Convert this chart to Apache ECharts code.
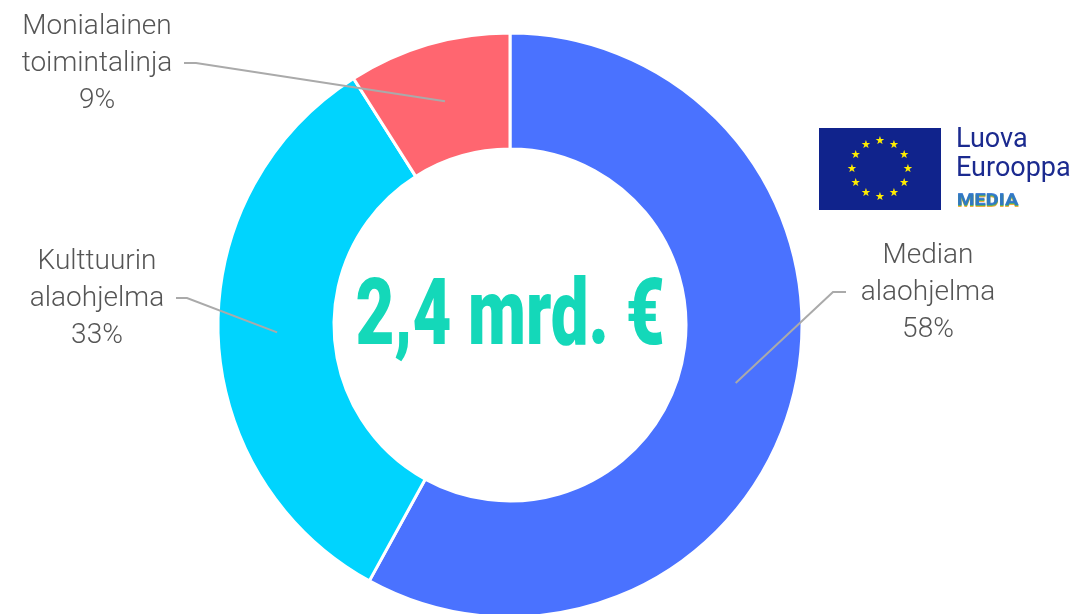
<!DOCTYPE html>
<html>
<head>
<meta charset="utf-8">
<script src="https://cdn.jsdelivr.net/npm/echarts@6/dist/echarts.min.js"></script>
<style>
  html, body { margin: 0; padding: 0; background: #fff; }
  #chart { width: 1084px; height: 614px; }
</style>
</head>
<body>
<div id="chart"></div>
<script>
// data
var names = ['Median alaohjelma', 'Kulttuurin alaohjelma', 'Monialainen toimintalinja'];
var shares = [58, 33, 9];
var colors = ['#4a72ff', '#00d4fe', '#ff6670'];
var centerText = '2,4 mrd. €';

// where each label block sits + the elbow of its leader line
var labelPos = [
  { x: 928, y: 293, elbowX: 833, endX: 846 },
  { x: 97, y: 299, elbowX: 187, endX: 176 },
  { x: 97, y: 64, elbowX: 196, endX: 184 }
];

var chart = echarts.init(document.getElementById('chart'));

var pieData = names.map(function (n, i) {
  return { name: n, value: shares[i], itemStyle: { color: colors[i] } };
});

// EU flag stars
var stars = [];
for (var k = 0; k < 12; k++) {
  var a = k * Math.PI / 6;
  stars.push({
    type: 'text',
    x: 880 + 28 * Math.sin(a),
    y: 169 - 28 * Math.cos(a),
    style: { text: '★', fill: '#ffed00', font: '11px DejaVu Sans', align: 'center', verticalAlign: 'middle' }
  });
}

// MEDIA wordmark: three colour bands stacked (blue / green / orange)
var mediaBands = [
  { color: '#f39a1e', dy: 2 },
  { color: '#3bb36a', dy: 1 },
  { color: '#2a6fd0', dy: 0 }
].map(function (b) {
  return {
    type: 'text', x: 957, y: 201 + b.dy,
    scaleX: 1.25,
    style: { text: 'MEDIA', font: '900 16px Roboto', verticalAlign: 'middle', fill: b.color, opacity: 0.85 }
  };
});

var option = {
  animation: false,
  backgroundColor: '#fff',
  series: [
    {
      type: 'pie',
      center: [510, 325],
      radius: [176, 292],
      startAngle: 90,
      silent: true,
      itemStyle: { borderColor: '#fff', borderWidth: 3 },
      label: { show: false },
      labelLine: { show: false },
      data: pieData
    },
    {
      // transparent overlay that carries the labels and leader lines
      type: 'pie',
      center: [510, 325],
      radius: [0, 233],
      startAngle: 90,
      silent: true,
      z: 5,
      itemStyle: { color: 'rgba(0,0,0,0)', borderWidth: 0 },
      label: {
        show: true,
        position: 'outside',
        formatter: function (p) {
          return p.name.replace(' ', '\n') + '\n' + p.value + '%';
        },
        fontFamily: 'Roboto',
        fontWeight: 300,
        fontSize: 28,
        lineHeight: 37,
        color: '#555555',
        align: 'center'
      },
      labelLine: { show: true, length: 10, length2: 10, lineStyle: { color: '#aaaaaa', width: 2 } },
      labelLayout: function (params) {
        var lp = labelPos[params.dataIndex];
        var start = params.labelLinePoints ? params.labelLinePoints[0] : [lp.x, lp.y];
        return {
          x: lp.x,
          y: lp.y,
          align: 'center',
          verticalAlign: 'middle',
          labelLinePoints: [start, [lp.elbowX, lp.y - 1], [lp.endX, lp.y - 1]]
        };
      },
      data: names.map(function (n, i) { return { name: n, value: shares[i] }; })
    }
  ],
  graphic: [
    {
      type: 'text',
      x: 510,
      y: 321,
      scaleX: 0.73,
      style: {
        text: centerText,
        fill: '#14d8b9',
        font: '900 92px Roboto',
        align: 'center',
        verticalAlign: 'middle'
      }
    },
    {
      type: 'rect',
      shape: { x: 819, y: 128, width: 122, height: 82 },
      style: { fill: '#10238c' }
    }
  ].concat(stars).concat([
    {
      type: 'text', x: 956, y: 140,
      style: { text: 'Luova', fill: '#1b2a8f', font: '27px Roboto', verticalAlign: 'middle' }
    },
    {
      type: 'text', x: 956, y: 169,
      style: { text: 'Eurooppa', fill: '#1b2a8f', font: '27px Roboto', verticalAlign: 'middle' }
    }
  ]).concat(mediaBands)
};

chart.setOption(option);
</script>
</body>
</html>
